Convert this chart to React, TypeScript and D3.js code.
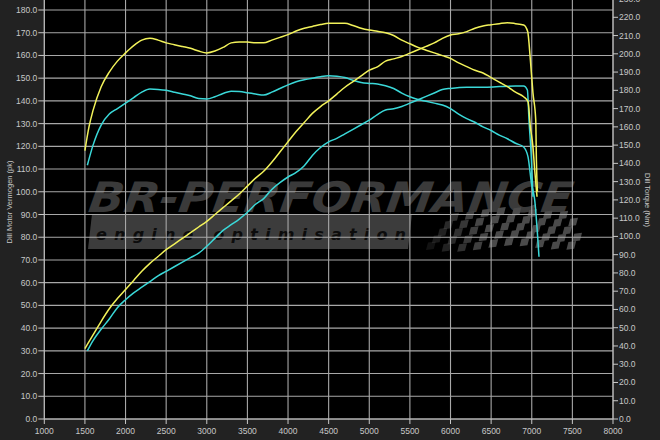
import React from "react";
import * as d3 from "d3";

// ---- data ----
const xTicks = [1000, 1500, 2000, 2500, 3000, 3500, 4000, 4500, 5000, 5500, 6000, 6500, 7000, 7500, 8000];
const leftTicks = d3.range(0, 181, 10);
const rightTicks = d3.range(0, 231, 10);

const tunedPowerRpm = [1500,1600,1700,1800,1900,2000,2100,2200,2300,2400,2500,2600,2700,2800,2900,3000,3100,3200,3300,3400,3500,3600,3700,3800,3900,4000,4100,4200,4300,4400,4500,4600,4700,4800,4900,5000,5100,5200,5300,5400,5500,5600,5700,5800,5900,6000,6100,6200,6300,6400,6500,6600,6700,6800,6900,6950,6983,7015,7049,7057,7070];
const tunedPowerPk = [31,37,43,48.5,53,57,61,65,68.5,71.5,74.5,77,79.5,82,84.5,87,90,93,96,99,102.5,106,109,113,117.5,122,126.5,130.5,134.5,137.5,140,143,146,148.5,151,153.5,155,157.5,158.5,159.5,161,162.5,164,165.5,167.5,169,169.5,170.5,172,173,173.5,174,174.4,174,173.4,170.5,158,143.4,131.6,114,100];

const tunedTorqueRpm = [1500,1550,1600,1700,1800,1900,2000,2100,2200,2300,2400,2500,2600,2700,2800,2900,3000,3100,3200,3300,3400,3500,3600,3700,3800,3900,4000,4100,4200,4300,4400,4500,4600,4700,4800,4900,5000,5100,5200,5300,5400,5500,5600,5700,5800,5900,6000,6100,6200,6300,6400,6500,6600,6700,6800,6900,6954,6983,7015,7036,7065];
const tunedTorqueNm = [147,160,169,182,190,196,200.5,204.5,207.5,208.5,207.5,206,205,204,203,201.5,200.5,201.5,203.5,206,206.5,206.5,206,206,207.5,209,210.5,212.5,214,215,216,216.7,216.7,216.7,215.5,214,213,212.3,211.5,210,207.5,205.5,203.5,202,200.5,199,197.5,195,193,191,189.5,187,184.5,182,179,176.5,173.8,160,149,136.4,121.7];

const stockPowerRpm = [1530,1600,1700,1800,1900,2000,2100,2200,2300,2400,2500,2600,2700,2800,2900,3000,3100,3200,3300,3400,3500,3600,3700,3800,3900,4000,4100,4200,4300,4400,4500,4600,4700,4800,4900,5000,5100,5200,5300,5400,5500,5600,5700,5800,5900,6000,6200,6400,6600,6800,6900,6946,6966,6996,7015];
const stockPowerPk = [30,34.5,39.5,44,49,52.5,55.5,58,60.5,63,65,67,69,71,73,76,79.5,83,85.5,88,91,94.5,97,101,104,106.5,108.5,111.5,116,119.5,122,123.5,125.5,127.5,129.5,131.5,134,136,136.5,137.5,139,140.5,142,143.5,145,145.5,146,146,146.3,146.5,146.5,144.8,131.6,114,97.8];

const stockTorqueRpm = [1530,1600,1700,1800,1900,2000,2100,2200,2300,2400,2500,2600,2700,2800,2900,3000,3100,3200,3300,3400,3500,3600,3700,3800,3900,4000,4100,4200,4300,4400,4500,4600,4700,4800,4900,5000,5100,5200,5300,5400,5500,5600,5700,5800,5900,6000,6100,6200,6300,6400,6500,6600,6700,6800,6900,6954,6996,7036,7089];
const stockTorqueNm = [139,150,161,167,170,173,176,179,180.7,180.5,180,179,178,177,175.5,175.3,176.5,178.3,179.5,179.3,178.7,178,177.4,179,181,183,184.7,185.8,186.6,187.5,188,187.7,187,185.5,184.3,183.8,183.5,182.5,181,178.5,176.5,175,174,173,172,170,167,164.5,162.5,160,158,155.5,153.5,151,149,143.6,129.2,120,88.9];

const leftTitle = "Dill Motor Vermogen (pk)";
const rightTitle = "Dill Torque (Nm)";
const bottomTitle = "Toerental (rpm)";

const YELLOW = "#f2f25a";
const CYAN = "#3ad8d8";

export default function App() {
  const W = 660, H = 440;
  const L = 44.3, R = 613, B = 419, T = 0;
  const x = d3.scaleLinear().domain([1000, 8000]).range([L, R]);
  const yL = d3.scaleLinear().domain([0, 180]).range([B, 10]);
  const yR = d3.scaleLinear().domain([0, 220]).range([B, 17.3]);

  const line = (rpm: number[], vals: number[], ys: d3.ScaleLinear<number, number>) =>
    d3.line<number>().x((_, i) => x(rpm[i])).y((v) => ys(v)).curve(d3.curveMonotoneX)(vals) || "";

  const tc = "#c8c8c8";
  const font = "Liberation Sans, Arial, sans-serif";

  // checkered flag cells
  const cells: JSX.Element[] = [];
  const cols = 20, rows = 5;
  for (let c = 0; c < cols; c++) {
    for (let r = 0; r < rows; r++) {
      if ((c + r) % 2 !== 0) continue;
      const cw = 7.8;
      const ch = 7.6;
      const x0 = 420 + c * cw + r * 2;
      const wave = Math.sin(c * 0.45) * 2.5;
      const y0 = 212 + r * ch + wave - c * 0.15;
      const op = Math.min(1, 0.25 + c / 10);
      if (x0 + r * 0 < 418 + (rows - r) * 6) continue;
      cells.push(
        <polygon key={`${c}-${r}`}
          points={`${x0},${y0} ${x0 + cw},${y0 - 1} ${x0 + cw - 2},${y0 + ch - 1} ${x0 - 2},${y0 + ch}`}
          fill="#4a4a4a" opacity={op} />
      );
    }
  }

  return (
    <svg width={W} height={H} style={{ position: "absolute", left: 0, top: 0, display: "block" }}>
      <rect x={0} y={0} width={W} height={H} fill="#222222" />
      <rect x={L} y={T} width={R - L} height={B - T} fill="#000" />

      {/* watermark */}
      <g>
        <text x={88} y={212} fontFamily="DejaVu Sans, sans-serif" fontWeight={900} fontStyle="italic"
          fontSize={42} fill="#3a3a3a" textLength={484} lengthAdjust="spacingAndGlyphs"
          transform="skewX(-8) translate(29,0)">BR-PERFORMANCE</text>
        <polygon points="92,214 412,214 408,249 88,249" fill="#3c3c3c" />
        <text x={96} y={240} fontFamily="DejaVu Sans, sans-serif" fontWeight={700} fontStyle="italic"
          fontSize={16} fill="#0c0c0c" textLength={310} lengthAdjust="spacing">engine optimisation</text>
        {cells}
      </g>

      {/* grid */}
      {leftTicks.map((t) => (
        <line key={`h${t}`} x1={L} x2={R} y1={yL(t)} y2={yL(t)} stroke="#a8a8a8" strokeWidth={1.1} />
      ))}
      {xTicks.map((t) => (
        <line key={`v${t}`} x1={x(t)} x2={x(t)} y1={T} y2={B} stroke="#a8a8a8" strokeWidth={1.1} />
      ))}

      {/* axes */}
      <line x1={L} x2={L} y1={T} y2={B} stroke="#bbb" />
      <line x1={R} x2={R} y1={T} y2={B} stroke="#bbb" />
      <line x1={L} x2={R} y1={B} y2={B} stroke="#bbb" />
      {leftTicks.map((t) => (
        <g key={`lt${t}`}>
          <line x1={L - 6} x2={L} y1={yL(t)} y2={yL(t)} stroke={tc} />
          <text x={L - 7} y={yL(t) + 3} textAnchor="end" fontFamily={font} fontSize={8.5} fill={tc}>{t.toFixed(1)}</text>
        </g>
      ))}
      {rightTicks.map((t) => (
        <g key={`rt${t}`}>
          <line x1={R} x2={R + 5} y1={yR(t)} y2={yR(t)} stroke={tc} />
          <text x={R + 6} y={yR(t) + 3} textAnchor="start" fontFamily={font} fontSize={8.5} fill={tc}>{t.toFixed(1)}</text>
        </g>
      ))}
      {xTicks.map((t) => (
        <g key={`xt${t}`}>
          <line x1={x(t)} x2={x(t)} y1={B} y2={B + 5} stroke={tc} />
          <text x={x(t)} y={434} textAnchor="middle" fontFamily={font} fontSize={8.5} fill={tc}>{t}</text>
        </g>
      ))}
      <text transform="translate(12,202) rotate(-90)" textAnchor="middle" fontFamily={font} fontSize={7.5} fill={tc}>{leftTitle}</text>
      <text transform="translate(645,200) rotate(90)" textAnchor="middle" fontFamily={font} fontSize={7.5} fill={tc}>{rightTitle}</text>
      <text x={330} y={447} textAnchor="middle" fontFamily={font} fontSize={8.5} fill={tc}>{bottomTitle}</text>

      {/* curves */}
      <path d={line(stockTorqueRpm, stockTorqueNm, yR)} fill="none" stroke={CYAN} strokeWidth={1.5} />
      <path d={line(stockPowerRpm, stockPowerPk, yL)} fill="none" stroke={CYAN} strokeWidth={1.5} />
      <path d={line(tunedTorqueRpm, tunedTorqueNm, yR)} fill="none" stroke={YELLOW} strokeWidth={1.5} />
      <path d={line(tunedPowerRpm, tunedPowerPk, yL)} fill="none" stroke={YELLOW} strokeWidth={1.5} />
    </svg>
  );
}
